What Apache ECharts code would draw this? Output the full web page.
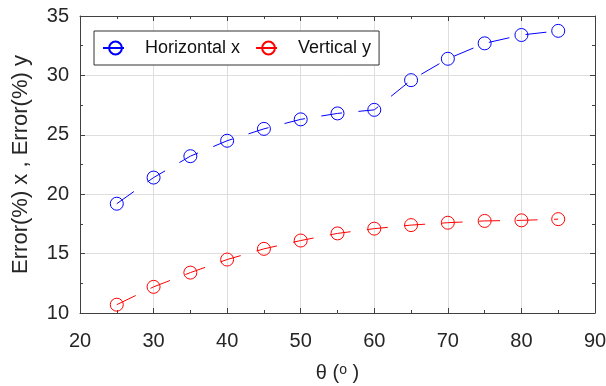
<!DOCTYPE html>
<html>
<head>
<meta charset="utf-8">
<script src="https://cdn.jsdelivr.net/npm/echarts@6/dist/echarts.min.js"></script>
<style>
  html, body { margin: 0; padding: 0; background: #fff; }
  #chart { width: 606px; height: 386px; }
</style>
</head>
<body>
<div id="chart"></div>
<script>
// values
const theta = [25, 30, 35, 40, 45, 50, 55, 60, 65, 70, 75, 80, 85];
const horizontalX = [19.2, 21.4, 23.2, 24.5, 25.5, 26.3, 26.8, 27.1, 29.6, 31.4, 32.7, 33.4, 33.75];
const verticalY = [10.7, 12.2, 13.4, 14.5, 15.4, 16.1, 16.7, 17.1, 17.4, 17.6, 17.75, 17.8, 17.9];
const seriesNames = ["Horizontal x", "Vertical y"];
const xTicks = { min: 20, max: 90, interval: 10 };
const yTicks = { min: 10, max: 35, interval: 5 };

const FONT = "Liberation Sans";
const TEXT = "#262626";
const FRAME = "#404040";

const chart = echarts.init(document.getElementById("chart"));

function frameAxis(extra) {
  return Object.assign({
    type: "value",
    axisLine: { show: true, lineStyle: { color: FRAME, width: 1 } },
    axisTick: { show: true, inside: true, length: 5, lineStyle: { color: FRAME } },
    minorTick: { show: true, splitNumber: 2, length: 3, lineStyle: { color: FRAME } },
    axisLabel: { show: false },
    splitLine: { show: false },
  }, extra);
}

function makeSeries(name, values, color) {
  return {
    name,
    type: "line",
    data: theta.map((t, i) => [t, values[i]]),
    symbol: "circle",
    symbolSize: 13,
    itemStyle: { color: "rgba(0,0,0,0)", borderColor: color, borderWidth: 1 },
    lineStyle: { color, width: 1, type: [21, 16.5], dashOffset: 0 },
    emphasis: { disabled: true },
    z: 3,
  };
}

const option = {
  animation: false,
  textStyle: { fontFamily: FONT },
  grid: { left: 80, right: 11, top: 16, bottom: 73, containLabel: false, outerBoundsMode: "none" },
  legend: {
    left: 94,
    top: 31,
    padding: [8, 8],
    itemGap: 15,
    itemWidth: 25,
    itemHeight: 16,
    backgroundColor: "#fff",
    borderColor: "#333",
    borderWidth: 1,
    borderRadius: 0,
    data: seriesNames,
    textStyle: { fontFamily: FONT, fontSize: 18, color: "#111", padding: [0, 0, 0, 12] },
  },
  xAxis: [
    frameAxis({
      min: xTicks.min, max: xTicks.max, interval: xTicks.interval,
      position: "bottom",
      axisLabel: { show: true, fontFamily: FONT, fontSize: 20, color: TEXT, margin: 18 },
      splitLine: { show: true, lineStyle: { color: "#dedede", width: 1 } },
      name: "{n|θ (}{s|o}{n| )}",
      nameLocation: "middle",
      nameGap: 50,
      nameTextStyle: {
        rich: {
          n: { fontFamily: FONT, fontSize: 20, color: TEXT },
          s: { fontFamily: FONT, fontSize: 14, color: TEXT, verticalAlign: "top" },
        },
      },
    }),
    frameAxis({ min: xTicks.min, max: xTicks.max, interval: xTicks.interval, position: "top" }),
  ],
  yAxis: [
    frameAxis({
      min: yTicks.min, max: yTicks.max, interval: yTicks.interval,
      position: "left",
      axisLabel: { show: true, fontFamily: FONT, fontSize: 20, color: TEXT, margin: 11 },
      splitLine: { show: true, lineStyle: { color: "#dedede", width: 1 } },
      name: "Error(%) x , Error(%) y",
      nameLocation: "middle",
      nameGap: 48,
      nameTextStyle: { fontFamily: FONT, fontSize: 22, color: TEXT },
    }),
    frameAxis({ min: yTicks.min, max: yTicks.max, interval: yTicks.interval, position: "right" }),
  ],
  series: [
    makeSeries(seriesNames[0], horizontalX, "#0000ff"),
    makeSeries(seriesNames[1], verticalY, "#ff0000"),
  ],
};

chart.setOption(option);
</script>
</body>
</html>
